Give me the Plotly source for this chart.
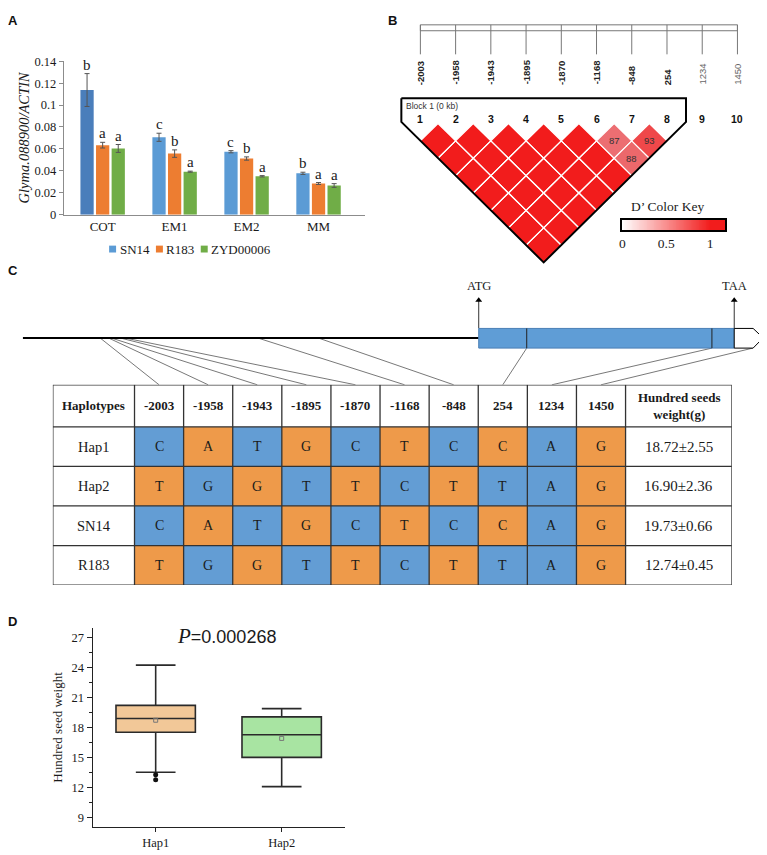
import numpy as np
import plotly.graph_objects as go

# ============================ DATA ============================
# Panel A: relative expression (Glyma.088900 / ACTIN)
stages = ["COT", "EM1", "EM2", "MM"]
accessions = ["SN14", "R183", "ZYD00006"]
expr_sn14 = [0.1137, 0.0706, 0.0574, 0.0377]
expr_r183 = [0.0634, 0.0557, 0.0512, 0.0284]
expr_zyd = [0.0604, 0.0392, 0.0350, 0.0266]
sd_sn14 = [0.0150, 0.0037, 0.0010, 0.0010]
sd_r183 = [0.0026, 0.0034, 0.0015, 0.0009]
sd_zyd = [0.0036, 0.0005, 0.0006, 0.0017]
sig_sn14 = ["b", "c", "c", "b"]
sig_r183 = ["a", "b", "b", "a"]
sig_zyd = ["a", "a", "a", "a"]

# Panel B: SNPs and pairwise D' (LD block of SNPs 1-8)
snp_positions = [-2003, -1958, -1943, -1895, -1870, -1168, -848, 254, 1234, 1450]
snp_numbers = [1, 2, 3, 4, 5, 6, 7, 8, 9, 10]
block_size = 8
block_label = "Block 1 (0 kb)"
dprime_rows = [            # row i: D'(i, i+1), D'(i, i+2), ...
    [1, 1, 1, 1, 1, 1, 1],
    [1, 1, 1, 1, 1, 1],
    [1, 1, 1, 1, 1],
    [1, 1, 1, 1],
    [1, 1, 1],
    [0.87, 0.88],
    [0.93],
]
key_ticks = [0, 0.5, 1]

# Panel C: gene model (bp relative to ATG) and haplotype table
promoter_start = -2412
cds_start = 0
cds_end = 1352
utr_notch = 1452
utr_end = 1505
haplotypes = ["Hap1", "Hap2", "SN14", "R183"]
alleles_hap1 = ["C", "A", "T", "G", "C", "T", "C", "C", "A", "G"]
alleles_hap2 = ["T", "G", "G", "T", "T", "C", "T", "T", "A", "G"]
alleles_sn14 = ["C", "A", "T", "G", "C", "T", "C", "C", "A", "G"]
alleles_r183 = ["T", "G", "G", "T", "T", "C", "T", "T", "A", "G"]
hsw_mean = [18.72, 16.90, 19.73, 12.74]
hsw_sd = [2.55, 2.36, 0.66, 0.45]

# Panel D: hundred-seed weight by haplotype
box_groups = ["Hap1", "Hap2"]
box_q1 = [17.52, 15.00]
box_median = [18.90, 17.26]
box_q3 = [20.21, 19.06]
box_low = [13.52, 12.08]
box_high = [24.24, 19.88]
box_mean = [18.72, 16.90]
hap1_outliers = [13.26, 12.77]
p_value = "0.000268"

# ===================== STYLE / LAYOUT =====================
PAGE_W, PAGE_H, OFF = 767, 855, 8       # page body has an 8 px margin
W, H = PAGE_W - OFF, PAGE_H - OFF
SERIF = "Liberation Serif"
SANS = "Liberation Sans"
TXT = "#1a1a1a"
BLUE_A, BLUE_A_DARK, ORANGE_A, GREEN_A = "#5b9bd5", "#4a7ebb", "#ed7d31", "#70ad47"
CELL_BLUE, CELL_ORANGE = "#639dd4", "#ee9a4a"
LD_RED = (242, 28, 28)
LD_PINK = (236, 110, 114)


def fx(px):
    return (px - OFF) / W


def fy(py):
    return 1 - (py - OFF) / H


def dom_x(a, b):
    return [fx(a), fx(b)]


def dom_y(top, bottom):
    return [fy(bottom), fy(top)]


def paper_text(text, xp, yp, size, family=SERIF, xanchor="center", color=TXT):
    return dict(x=fx(xp), y=fy(yp), xref="paper", yref="paper", text=text, showarrow=False,
                xanchor=xanchor, yanchor="middle", font=dict(family=family, size=size, color=color))


fig = go.Figure()
ann = []
shapes = []

# ------------------------------ Panel A ------------------------------
A_BARGAP = 0.35
slot = (1 - A_BARGAP) / 3
series_A = [
    (accessions[0], expr_sn14, sd_sn14, sig_sn14, [BLUE_A_DARK] + [BLUE_A] * 3),
    (accessions[1], expr_r183, sd_r183, sig_r183, ORANGE_A),
    (accessions[2], expr_zyd, sd_zyd, sig_zyd, GREEN_A),
]
for k, (name, vals, errs, sig, col) in enumerate(series_A):
    fig.add_trace(go.Bar(
        x=stages, y=vals, name=name, marker=dict(color=col, line=dict(width=0)),
        error_y=dict(type="data", array=errs, color="#555555", thickness=1, width=2.5),
        xaxis="x", yaxis="y", showlegend=False))
    for i, (v, e, s) in enumerate(zip(vals, errs, sig)):
        ann.append(dict(x=i + (k - 1) * slot, y=v + e, xref="x", yref="y", text=s,
                        showarrow=False, xanchor="center", yanchor="bottom", yshift=-1,
                        font=dict(family=SERIF, size=15, color=TXT)))

legend_px = [110, 157, 202]
for name, col, xp in zip(accessions, [BLUE_A, ORANGE_A, GREEN_A], legend_px):
    shapes.append(dict(type="rect", xref="paper", yref="paper", x0=fx(xp - 3.5), x1=fx(xp + 3.5),
                       y0=fy(249.5), y1=fy(242.5), fillcolor=col, line=dict(width=0)))
    ann.append(paper_text(name, xp + 5, 246, 13, xanchor="left"))

# ------------------------------ Panel B ------------------------------
LD_X1, LD_STEP, LD_Y0 = 419.0, 35.37, 118.3


def ldx(px):
    return 1 + (px - LD_X1) / LD_STEP


def ldy(py):
    return (LD_Y0 - py) / LD_STEP


def ld_color(d):
    t = max(0.0, min(1.0, (d - 0.87) / 0.13))
    c = [round(a + (b - a) * t) for a, b in zip(LD_PINK, LD_RED)]
    return "rgb(%d,%d,%d)" % tuple(c)


def diamond(i, j):
    cx, cy = (i + j) / 2, -(j - i) / 2
    return [cx, cx + 0.5, cx, cx - 0.5, cx], [cy + 0.5, cy, cy - 0.5, cy, cy + 0.5]


full_x, full_y, partial = [], [], []
for r, row in enumerate(dprime_rows):
    i = snp_numbers[r]
    for c, d in enumerate(row):
        j = snp_numbers[r + c + 1]
        xs, ys = diamond(i, j)
        if d >= 1:
            full_x += xs + [None]
            full_y += ys + [None]
        else:
            partial.append((i, j, d, xs, ys))

fig.add_trace(go.Scatter(x=full_x, y=full_y, mode="lines", fill="toself", fillcolor=ld_color(1),
                         line=dict(color="white", width=1.2), xaxis="x2", yaxis="y2",
                         hoverinfo="skip", showlegend=False))
for i, j, d, xs, ys in partial:
    fig.add_trace(go.Scatter(x=xs, y=ys, mode="lines", fill="toself", fillcolor=ld_color(d),
                             line=dict(color="white", width=1.2), xaxis="x2", yaxis="y2",
                             hoverinfo="skip", showlegend=False))
    ann.append(dict(x=(i + j) / 2, y=-(j - i) / 2, xref="x2", yref="y2", text=str(round(d * 100)),
                    showarrow=False, font=dict(family=SANS, size=9.5, color="#333")))

pad = 0.54
xl, xr = snp_numbers[0] - pad, snp_numbers[block_size - 1] + pad
yt, yc = ldy(92.7), ldy(116.7)
xb, yb = (xl + xr) / 2, yc - (xr - xl) / 2
fig.add_trace(go.Scatter(x=[xl, xr, xr, xb, xl, xl], y=[yt, yt, yc, yb, yc, yt], mode="lines",
                         line=dict(color="black", width=2), xaxis="x2", yaxis="y2",
                         hoverinfo="skip", showlegend=False))
ann.append(dict(x=ldx(402.5), y=ldy(101), xref="x2", yref="y2", text=block_label, xanchor="left",
                showarrow=False, font=dict(family=SANS, size=8.5, color="#333")))

shapes.append(dict(type="rect", xref="x2", yref="y2", x0=snp_numbers[0], x1=snp_numbers[-1],
                   y0=ldy(24), y1=ldy(18), line=dict(color="#777", width=1)))
for n, pos in zip(snp_numbers, snp_positions):
    inblock = n <= block_size
    shapes.append(dict(type="line", xref="x2", yref="y2", x0=n, x1=n, y0=ldy(18), y1=ldy(48),
                       line=dict(color="#777", width=1)))
    ann.append(dict(x=n, y=ldy(81), xref="x2", yref="y2", text=("<b>%d</b>" if inblock else "%d") % pos,
                    textangle=-90, yanchor="bottom", xanchor="center", showarrow=False,
                    font=dict(family=SANS, size=9.5, color="#222" if inblock else "#666")))
    ann.append(dict(x=n, y=ldy(114), xref="x2", yref="y2", text="<b>%d</b>" % n, showarrow=False,
                    font=dict(family=SANS, size=10.5, color="#111")))

# D' colour key
key_max = 1.17
key_x = np.linspace(0, key_max, 118)
fig.add_trace(go.Heatmap(x=key_x, y=[0.5], z=[np.clip(key_x, 0, 1)], zmin=0, zmax=1,
                         colorscale=[[0, "white"], [1, ld_color(1)]], showscale=False,
                         xaxis="x5", yaxis="y5", hoverinfo="skip"))
ann.append(paper_text("D\u2019 Color Key", 666.7, 203, 13.5))

# ------------------------------ Panel C ------------------------------
GENE_ANCHOR_BP = (snp_positions[6], snp_positions[8])
GENE_ANCHOR_PX = (316.7, 711.7)
g_scale = (GENE_ANCHOR_PX[1] - GENE_ANCHOR_PX[0]) / (GENE_ANCHOR_BP[1] - GENE_ANCHOR_BP[0])


def gene_bp(px):
    return GENE_ANCHOR_BP[0] + (px - GENE_ANCHOR_PX[0]) / g_scale


LINE_Y, RECT_Y0, RECT_Y1, ARROW_TOP, LABEL_Y = 47.5, 37.3, 57.3, 86.0, 100.5

shapes.append(dict(type="line", xref="x6", yref="y6", x0=promoter_start, x1=cds_start,
                   y0=LINE_Y, y1=LINE_Y, line=dict(color="black", width=2)))
shapes.append(dict(type="rect", xref="x6", yref="y6", x0=cds_start, x1=cds_end, y0=RECT_Y0, y1=RECT_Y1,
                   fillcolor="#5f9dd6", line=dict(color="#4a7fb5", width=1)))
shapes.append(dict(type="path", xref="x6", yref="y6",
                   path="M %f,%f L %f,%f L %f,%f L %f,%f L %f,%f Z" % (
                       cds_end, RECT_Y1, utr_notch, RECT_Y1, utr_end, LINE_Y + 0.2, utr_notch, RECT_Y0,
                       cds_end, RECT_Y0),
                   fillcolor="white", line=dict(color="black", width=1)))
for pos in snp_positions:
    if cds_start < pos < utr_notch - 20:
        shapes.append(dict(type="line", xref="x6", yref="y6", x0=pos, x1=pos, y0=RECT_Y0, y1=RECT_Y1,
                           line=dict(color="#222", width=1)))
for xpos, lab in [(cds_start, "ATG"), (cds_end, "TAA")]:
    fig.add_trace(go.Scatter(x=[xpos, xpos], y=[RECT_Y1, ARROW_TOP], mode="lines",
                             line=dict(color="#333", width=1), xaxis="x6", yaxis="y6",
                             hoverinfo="skip", showlegend=False))
    fig.add_trace(go.Scatter(x=[xpos], y=[ARROW_TOP], mode="markers",
                             marker=dict(symbol="triangle-up", size=6, color="black"),
                             xaxis="x6", yaxis="y6", hoverinfo="skip", showlegend=False))
    ann.append(dict(x=xpos, y=LABEL_Y, xref="x6", yref="y6", text=lab, showarrow=False,
                    font=dict(family=SERIF, size=12.5, color=TXT)))

# table
TABLE_X0, TABLE_Y0 = 50.0, 384.0
col_w = [82.0] + [49.3] * len(snp_positions) + [106.7]
row_h = [42.7] + [40.25] * len(haplotypes)
xe = np.concatenate([[0], np.cumsum(col_w)])
ye = np.concatenate([[0], np.cumsum(row_h)])
xc = (xe[:-1] + xe[1:]) / 2
yc_rows = (ye[:-1] + ye[1:]) / 2

all_alleles = [alleles_hap1, alleles_hap2, alleles_sn14, alleles_r183]
z = [[0] * len(col_w)]
for al in all_alleles:
    row = [0]
    for j, (a, ref) in enumerate(zip(al, alleles_hap1)):
        row.append(1 + ((j % 2) ^ int(a != ref)))
    row.append(0)
    z.append(row)
fig.add_trace(go.Heatmap(x=xe, y=ye, z=z, zmin=0, zmax=2, showscale=False,
                         colorscale=[[0, "white"], [0.33, "white"], [0.34, CELL_BLUE], [0.66, CELL_BLUE],
                                     [0.67, CELL_ORANGE], [1, CELL_ORANGE]],
                         xaxis="x3", yaxis="y3", hoverinfo="skip"))

header = ["Haplotypes"] + [str(p) for p in snp_positions] + ["Hundred seeds<br>weight(g)"]
for j, htxt in enumerate(header):
    ann.append(dict(x=xc[j], y=yc_rows[0], xref="x3", yref="y3", text="<b>%s</b>" % htxt, showarrow=False,
                    font=dict(family=SERIF, size=13, color=TXT)))
for r, (hap, al, m, s) in enumerate(zip(haplotypes, all_alleles, hsw_mean, hsw_sd)):
    yy = yc_rows[r + 1]
    ann.append(dict(x=xc[0], y=yy, xref="x3", yref="y3", text=hap, showarrow=False,
                    font=dict(family=SERIF, size=14.5, color=TXT)))
    for j, a in enumerate(al):
        ann.append(dict(x=xc[j + 1], y=yy, xref="x3", yref="y3", text=a, showarrow=False,
                        font=dict(family=SERIF, size=14, color=TXT)))
    ann.append(dict(x=xc[-1], y=yy, xref="x3", yref="y3", text="%.2f\u00b1%.2f" % (m, s), showarrow=False,
                    font=dict(family=SERIF, size=15, color=TXT)))
for xv in xe:
    shapes.append(dict(type="line", xref="x3", yref="y3", x0=xv, x1=xv, y0=0, y1=ye[-1],
                       line=dict(color="#333", width=1.3)))
for yv in ye:
    shapes.append(dict(type="line", xref="x3", yref="y3", x0=0, x1=xe[-1], y0=yv, y1=yv,
                       line=dict(color="#333", width=1.3)))

# connectors from gene model to table columns
con_x, con_y = [], []
for j, pos in enumerate(snp_positions):
    col_center_bp = gene_bp(TABLE_X0 + xc[j + 1])
    top_y = LINE_Y if pos < cds_start else RECT_Y0
    con_x += [pos, col_center_bp, None]
    con_y += [top_y, 0, None]
fig.add_trace(go.Scatter(x=con_x, y=con_y, mode="lines", line=dict(color="#555", width=0.8),
                         xaxis="x6", yaxis="y6", hoverinfo="skip", showlegend=False))

# ------------------------------ Panel D ------------------------------
box_fill = ["#f2c898", "#a8e4a2"]
for g, q1, med, q3, lo, hi, col in zip(box_groups, box_q1, box_median, box_q3, box_low, box_high, box_fill):
    fig.add_trace(go.Box(x=[g], q1=[q1], median=[med], q3=[q3], lowerfence=[lo], upperfence=[hi],
                         fillcolor=col, line=dict(color="#2a2a2a", width=1.6), width=0.63,
                         whiskerwidth=0.5, boxpoints=False, name=g, xaxis="x4", yaxis="y4",
                         showlegend=False))
fig.add_trace(go.Scatter(x=box_groups, y=box_mean, mode="markers",
                         marker=dict(symbol="square-open", size=4, color="#777", line=dict(width=1)),
                         xaxis="x4", yaxis="y4", showlegend=False))
fig.add_trace(go.Scatter(x=[box_groups[0]] * len(hap1_outliers), y=hap1_outliers, mode="markers",
                         marker=dict(symbol="circle", size=5, color="#111"),
                         xaxis="x4", yaxis="y4", showlegend=False))
ann.append(paper_text("<i>P</i><span style='font-family:%s;font-size:18px'>=%s</span>" % (SANS, p_value),
                      224, 639, 21))

# panel letters
for lab, xp, yp in [("A", 10, 14), ("B", 391, 14), ("C", 10, 268), ("D", 10, 625)]:
    ann.append(paper_text("<b>%s</b>" % lab, xp, yp, 13, family=SANS, color="#111"))

hidden = dict(visible=False, showgrid=False, zeroline=False)
fig.update_layout(
    width=W, height=H, margin=dict(l=0, r=0, t=0, b=0),
    paper_bgcolor="white", plot_bgcolor="rgba(0,0,0,0)",
    font=dict(family=SERIF, color=TXT),
    barmode="group", bargap=A_BARGAP, bargroupgap=0.15,
    showlegend=False,
    xaxis=dict(domain=dom_x(61, 363), anchor="y", type="category", range=[-0.54, 3.64],
               showline=True, linecolor="#8c8c8c", linewidth=1, ticks="", showgrid=False, zeroline=False,
               tickfont=dict(family=SERIF, size=13, color=TXT)),
    yaxis=dict(domain=dom_y(55, 211), anchor="x", range=[0, 0.14], dtick=0.02, showline=True,
               linecolor="#8c8c8c", ticks="outside", ticklen=4, tickcolor="#8c8c8c", showgrid=False,
               zeroline=False, tickfont=dict(family=SERIF, size=12.5, color=TXT),
               title=dict(text="<i>Glyma.088900/ACTIN</i>", standoff=1,
                          font=dict(family=SERIF, size=14.5, color=TXT))),
    xaxis2=dict(domain=dom_x(380, 767), range=[ldx(380), ldx(767)], anchor="y2", **hidden),
    yaxis2=dict(domain=dom_y(8, 270), range=[ldy(270), ldy(8)], anchor="x2", **hidden),
    xaxis3=dict(domain=dom_x(TABLE_X0, TABLE_X0 + xe[-1]), range=[0, xe[-1]], anchor="y3", **hidden),
    yaxis3=dict(domain=dom_y(TABLE_Y0, TABLE_Y0 + ye[-1]), range=[ye[-1], 0], anchor="x3", **hidden),
    xaxis4=dict(domain=dom_x(90, 343), anchor="y4", type="category", range=[-0.5, 1.5],
                showline=True, linecolor="#222", linewidth=1.2, ticks="outside", ticklen=4,
                tickcolor="#222", showgrid=False, zeroline=False,
                tickfont=dict(family=SERIF, size=12.5, color=TXT)),
    yaxis4=dict(domain=dom_y(630.8, 834), anchor="x4", range=[8, 28], tick0=0, dtick=3,
                showline=True, linecolor="#222", linewidth=1.2, ticks="outside", ticklen=5,
                tickcolor="#222", showgrid=False, zeroline=False,
                minor=dict(tick0=0, dtick=1.5, ticks="outside", ticklen=3, tickcolor="#222"),
                tickfont=dict(family=SERIF, size=12.5, color=TXT),
                title=dict(text="Hundred seed weight", standoff=6,
                           font=dict(family=SERIF, size=13, color=TXT))),
    xaxis5=dict(domain=dom_x(621.7, 725), anchor="y5", range=[0, key_max], tickvals=key_ticks,
                ticktext=[str(t) for t in key_ticks], ticks="", showline=True, mirror=True,
                linecolor="black", linewidth=1.5, showgrid=False, zeroline=False,
                tickfont=dict(family=SERIF, size=13.5, color=TXT)),
    yaxis5=dict(domain=dom_y(216, 226.7), anchor="x5", range=[0, 1], showticklabels=False, ticks="",
                showline=True, mirror=True, linecolor="black", linewidth=1.5, showgrid=False,
                zeroline=False),
    xaxis6=dict(domain=[0, 1], range=[gene_bp(OFF), gene_bp(PAGE_W)], anchor="y6", **hidden),
    yaxis6=dict(domain=dom_y(270, 384), range=[0, 114], anchor="x6", **hidden),
    annotations=ann,
    shapes=shapes,
)

fig.write_html("out.html")
